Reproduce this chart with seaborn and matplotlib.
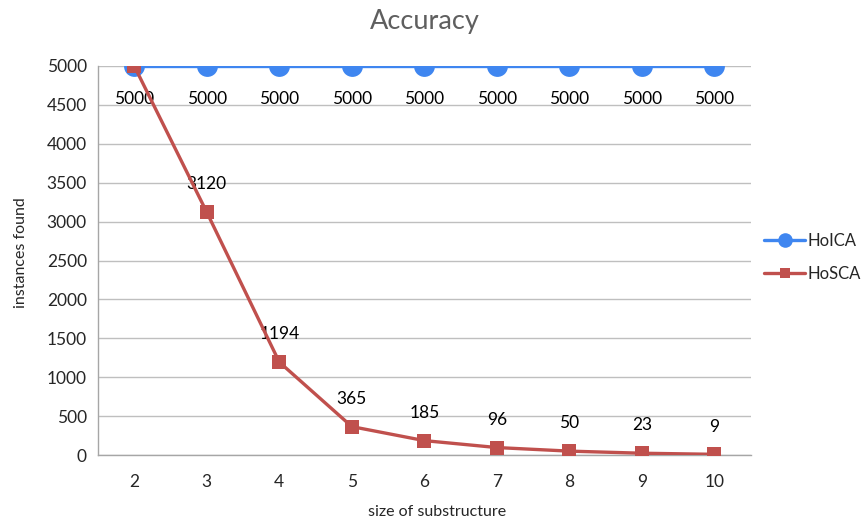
import numpy as np
import pandas as pd
import matplotlib
matplotlib.use("Agg")
import matplotlib.pyplot as plt
import seaborn as sns

# data
sizes = ["2", "3", "4", "5", "6", "7", "8", "9", "10"]
hoica = [5000, 5000, 5000, 5000, 5000, 5000, 5000, 5000, 5000]
hosca = [5000, 3120, 1194, 365, 185, 96, 50, 23, 9]

BLUE = "#3F86F0"
RED = "#C0504D"

sns.set_style("white")
plt.rcParams['font.family'] = ['Lato', 'DejaVu Sans']

fig = plt.figure(figsize=(8.68, 5.25), dpi=100)
ax = fig.add_axes([0.1129, 0.1333, 0.752, 0.741])

pos = np.arange(len(sizes))
sns.lineplot(x=pos, y=hoica, ax=ax, color=BLUE, linewidth=2.4, marker="o",
             markersize=15, markeredgewidth=0, label="HoICA", zorder=3)
sns.lineplot(x=pos, y=hosca, ax=ax, color=RED, linewidth=2.4, marker="s",
             markersize=10.5, markeredgewidth=0, label="HoSCA", zorder=4)

# data labels
for i, v in enumerate(hoica):
    ax.annotate(f"{v}", (pos[i], v), xytext=(0, -24), textcoords="offset points",
                ha="center", va="center", fontsize=12.5, color="black")
for i, v in enumerate(hosca):
    if i == 0:
        continue
    ax.annotate(f"{v}", (pos[i], v), xytext=(0, 20), textcoords="offset points",
                ha="center", va="center", fontsize=12.5, color="black")

ax.set_xlim(-0.5, len(sizes) - 0.5)
ax.set_ylim(0, 5000)
ax.set_xticks(pos)
ax.set_xticklabels(sizes)
ax.set_yticks(np.arange(0, 5001, 500))
ax.tick_params(axis="both", length=0, labelsize=12.5)
ax.tick_params(axis="x", pad=14)
ax.tick_params(axis="y", pad=8)

ax.grid(axis="y", color="#BFBFBF", linewidth=1)
ax.set_axisbelow(True)
sns.despine(ax=ax, top=True, right=True)
for s in ["left", "bottom"]:
    ax.spines[s].set_color("#A6A6A6")
    ax.spines[s].set_linewidth(1)

ax.set_xlabel("size of substructure", fontsize=11.5)
ax.xaxis.set_label_coords(0.52, -0.128)
ax.set_ylabel("instances found", fontsize=11.5)
ax.yaxis.set_label_coords(-0.107, 0.52)
fig.text(0.489, 0.96, "Accuracy", ha="center", va="center", fontsize=19.5, color="#5F5F5F")

ax.legend(loc="center left", bbox_to_anchor=(0.876, 0.51), bbox_transform=fig.transFigure,
          frameon=False, fontsize=12, handlelength=2.5, labelspacing=1.0,
          handletextpad=0.15, markerscale=0.7, borderpad=0.2, borderaxespad=0)

fig.savefig("out.png", dpi=100)
